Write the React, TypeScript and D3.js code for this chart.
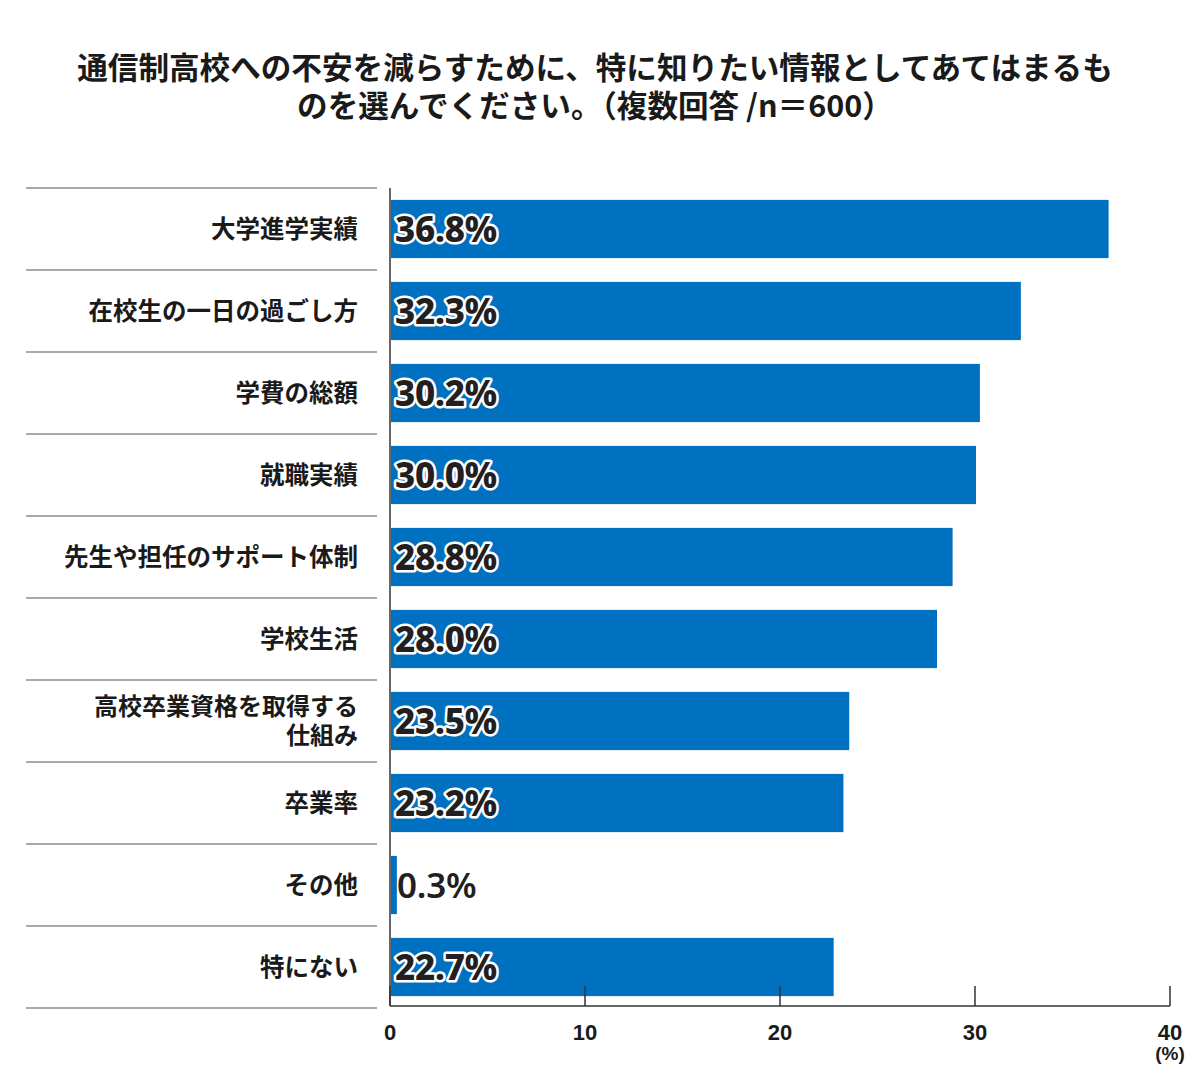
import React from "react";
import * as d3 from "d3";

const categories: string[][] = [
  ["大学進学実績"],
  ["在校生の一日の過ごし方"],
  ["学費の総額"],
  ["就職実績"],
  ["先生や担任のサポート体制"],
  ["学校生活"],
  ["高校卒業資格を取得する", "仕組み"],
  ["卒業率"],
  ["その他"],
  ["特にない"],
];
const values: number[] = [36.8, 32.3, 30.2, 30.0, 28.8, 28.0, 23.5, 23.2, 0.3, 22.7];
const xTicks: number[] = [0, 10, 20, 30, 40];
const titleLines: string[] = [
  "通信制高校への不安を減らすために、特に知りたい情報としてあてはまるも",
  "のを選んでください。（複数回答 /n＝600）",
];

const W = 1200;
const H = 1090;
const left = 390;
const right = 1170;
const top = 188;
const bottom = 1008;
const JP = "'Noto Sans CJK JP', 'Noto Sans', sans-serif";

export default function App() {
  const x = d3.scaleLinear().domain([0, 40]).range([left, right]);
  const y = d3
    .scaleBand<number>()
    .domain(values.map((_, i) => i))
    .range([top, bottom])
    .paddingInner(0.29)
    .paddingOuter(0.145);
  const step = y.step();
  return (
    <svg width={W} height={H} style={{ position: "absolute", left: 0, top: 0, background: "#fff" }}>
      <rect width={W} height={H} fill="#fff" />
      {titleLines.map((t, i) => (
        <text
          key={i}
          x={595}
          y={79 + i * 37.5}
          textAnchor="middle"
          fontFamily={JP}
          fontWeight={700}
          fontSize={30.6}
          fill="#1a1a1a"
        >
          {t}
        </text>
      ))}
      {/* row separators */}
      {d3.range(values.length + 1).map((i) => (
        <line
          key={i}
          x1={26}
          x2={377}
          y1={top + i * step}
          y2={top + i * step}
          stroke="#8c8c8c"
          strokeWidth={1.5}
        />
      ))}
      {/* bars */}
      {values.map((v, i) => (
        <rect
          key={i}
          x={x(0) + 1}
          y={y(i)!}
          width={x(v) - x(0)}
          height={y.bandwidth()}
          fill="#0070c0"
        />
      ))}
      {/* category labels */}
      {categories.map((lines, i) => {
        const cy = (y(i) as number) + y.bandwidth() / 2;
        const lh = 29;
        const start = cy - ((lines.length - 1) * lh) / 2;
        return (
          <text
            key={i}
            x={358}
            textAnchor="end"
            fontFamily={JP}
            fontWeight={700}
            fontSize={lines.length > 1 ? 24 : 24.5}
            fill="#1a1a1a"
          >
            {lines.map((l, j) => (
              <tspan key={j} x={358} y={start + j * lh} dy="0.36em">
                {l}
              </tspan>
            ))}
          </text>
        );
      })}
      {/* value labels */}
      {values.map((v, i) => {
        const cy = (y(i) as number) + y.bandwidth() / 2;
        const small = v < 2;
        return (
          <text
            key={i}
            x={small ? 397 : 395}
            y={cy}
            dy="0.36em"
            fontFamily="'Noto Sans', 'Open Sans', sans-serif"
            fontWeight={small ? 600 : 800}
            fontSize={35}
            letterSpacing={-0.2}
            fill="#231f20"
            stroke={small ? "none" : "#fff"}
            strokeWidth={small ? 0 : 5}
            strokeLinejoin="round"
            paintOrder="stroke"
          >
            {`${v.toFixed(1)}%`}
          </text>
        );
      })}
      {/* axes */}
      <line x1={left} x2={left} y1={top} y2={1006} stroke="#333" strokeWidth={1.5} />
      <line x1={left} x2={right} y1={1006} y2={1006} stroke="#333" strokeWidth={1.5} />
      {xTicks.map((t) => (
        <g key={t}>
          <line x1={x(t)} x2={x(t)} y1={986} y2={1006} stroke="#333" strokeWidth={1.5} />
          <text
            x={x(t)}
            y={1040}
            textAnchor="middle"
            fontFamily="'Liberation Sans', Arial, sans-serif"
            fontWeight={700}
            fontSize={22}
            fill="#1a1a1a"
          >
            {t}
          </text>
        </g>
      ))}
      <text
        x={x(40)}
        y={1060}
        textAnchor="middle"
        fontFamily="'Liberation Sans', Arial, sans-serif"
        fontWeight={700}
        fontSize={19}
        fill="#1a1a1a"
      >
        (%)
      </text>
    </svg>
  );
}
